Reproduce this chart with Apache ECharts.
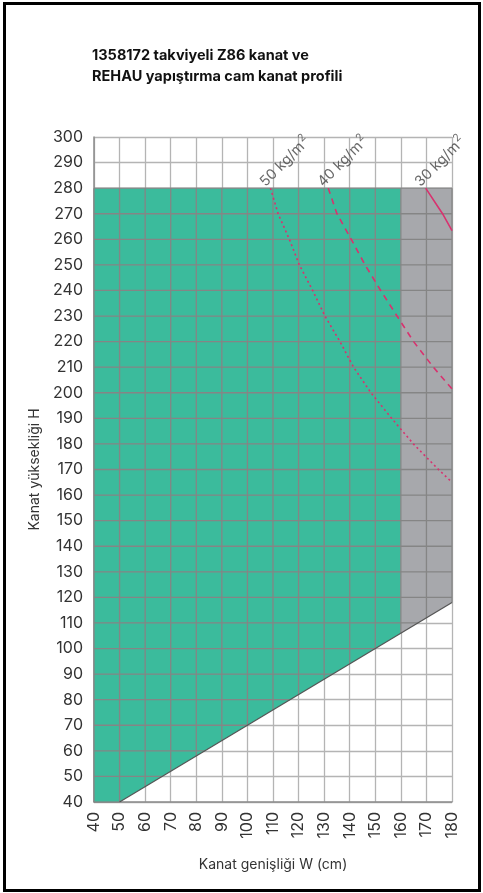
<!DOCTYPE html>
<html>
<head>
<meta charset="utf-8">
<script src="https://cdn.jsdelivr.net/npm/echarts@6/dist/echarts.min.js"></script>
<style>
html,body{margin:0;padding:0;background:#fff;}
#c{width:483px;height:893px;}
</style>
</head>
<body>
<div id="c"></div>
<script>
// ---- data ----
const titleLines = ['1358172 takviyeli Z86 kanat ve', 'REHAU yapıştırma cam kanat profili'];
const xName = 'Kanat genişliği W (cm)';
const yName = 'Kanat yüksekliği H';
const xMin = 40, xMax = 180, xStep = 10;
const yMin = 40, yMax = 300, yStep = 10;

// permitted region (green) and restricted region (gray)
const greenX = [40, 50, 160, 160, 40];
const greenY = [40, 40, 106, 280, 280];
const grayX = [160, 180, 180, 160];
const grayY = [106, 118, 280, 280];
// lower limit line
const limitX = [50, 180];
const limitY = [40, 118];
const topLimit = 280;

// glass weight curves
const c50X = [109, 112, 116.4, 120.3, 125.5, 130.3, 136.2, 141.5, 148.3, 156.4, 164.9, 174.7, 180];
const c50Y = [280, 270, 260, 250, 240, 230, 220, 210, 200, 190, 180, 170, 165];
const c40X = [131.6, 135, 140.6, 146, 152.1, 158.5, 165, 172.7, 180];
const c40Y = [280, 270, 260, 250, 240, 230, 220, 210, 201.5];
const c30X = [169.7, 176.3, 180];
const c30Y = [280, 270, 263.4];
const curveLabelValues = ['50', '40', '30'];

// ---- helpers ----
const zip = (a, b) => a.map((v, i) => [v, b[i]]);
const FONT = 'Inter, "Noto Sans", sans-serif';
const PINK = '#d8326f';

function polygonSeries(xs, ys, color) {
  return {
    type: 'custom',
    z: 1,
    silent: true,
    data: [0],
    renderItem: function (params, api) {
      const pts = xs.map((x, i) => api.coord([x, ys[i]]));
      return {
        type: 'polygon',
        shape: { points: pts },
        style: { fill: color, stroke: null }
      };
    }
  };
}

// darker grid lines over the coloured region (bounded by limit line and top limit)
function limitYAt(x) {
  if (x <= limitX[0]) return limitY[0];
  const t = (x - limitX[0]) / (limitX[1] - limitX[0]);
  return limitY[0] + t * (limitY[1] - limitY[0]);
}
function limitXAt(y) {
  const t = (y - limitY[0]) / (limitY[1] - limitY[0]);
  return Math.min(xMax, limitX[0] + t * (limitX[1] - limitX[0]));
}
const gridOverSeries = {
  type: 'custom',
  z: 2,
  silent: true,
  data: [0],
  renderItem: function (params, api) {
    const children = [];
    const st = { stroke: '#858585', lineWidth: 1.3, fill: null };
    for (let x = xMin; x <= xMax; x += xStep) {
      const a = api.coord([x, limitYAt(x)]);
      const b = api.coord([x, topLimit]);
      children.push({ type: 'line', shape: { x1: a[0], y1: a[1], x2: b[0], y2: b[1] }, style: st });
    }
    for (let y = yMin; y <= topLimit; y += yStep) {
      const a = api.coord([xMin, y]);
      const b = api.coord([limitXAt(y), y]);
      children.push({ type: 'line', shape: { x1: a[0], y1: a[1], x2: b[0], y2: b[1] }, style: st });
    }
    return { type: 'group', children: children };
  }
};

function curveSeries(xs, ys, lineType) {
  return {
    type: 'line',
    z: 8,
    silent: true,
    symbol: 'none',
    smooth: false,
    data: zip(xs, ys),
    lineStyle: { color: PINK, width: 1.6, type: lineType }
  };
}

function labelSeries(xs, ys, texts) {
  return {
    type: 'scatter',
    z: 9,
    silent: true,
    symbolSize: 0,
    data: xs.map((x, i) => ({ value: [x, ys[i]], name: texts[i] })),
    label: {
      show: true,
      position: [0, 0],
      align: 'left',
      verticalAlign: 'bottom',
      rotate: 45,
      offset: [-3, -1],
      formatter: p => '{a|' + p.name + ' kg/m}{s|2}',
      rich: {
        a: { fontFamily: FONT, fontSize: 14.5, color: '#444', lineHeight: 18, verticalAlign: 'bottom' },
        s: { fontFamily: FONT, fontSize: 10.5, color: '#444', lineHeight: 18, verticalAlign: 'top', padding: [0, 0, 0, 1] }
      }
    }
  };
}

const chart = echarts.init(document.getElementById('c'), null, { renderer: 'canvas' });
chart.setOption({
  animation: false,
  backgroundColor: '#fff',
  title: {
    text: titleLines.join('\n'),
    left: 87,
    top: 40,
    textStyle: { fontFamily: FONT, fontSize: 14.5, fontWeight: 'bold', color: '#111', lineHeight: 21 }
  },
  graphic: [{
    type: 'rect',
    shape: { x: 4.5, y: 3.5, width: 475, height: 887 },
    style: { fill: null, stroke: '#000', lineWidth: 3 },
    silent: true,
    z: 100
  }],
  grid: { left: 94, right: 31, top: 137, bottom: 91, containLabel: false },
  xAxis: {
    type: 'value',
    min: xMin, max: xMax, interval: xStep,
    name: xName,
    nameLocation: 'middle',
    nameGap: 56,
    nameTextStyle: { fontFamily: FONT, fontSize: 14, color: '#333' },
    axisLine: { show: true, lineStyle: { color: '#8c8c8c', width: 1.5 } },
    axisTick: { show: false },
    splitLine: { show: true, lineStyle: { color: '#b4b4b4', width: 1.3 } },
    axisLabel: { rotate: 90, margin: 10, fontFamily: FONT, fontSize: 16, color: '#333' }
  },
  yAxis: {
    type: 'value',
    min: yMin, max: yMax, interval: yStep,
    name: yName,
    nameLocation: 'middle',
    nameGap: 50,
    nameTextStyle: { fontFamily: FONT, fontSize: 14, color: '#333' },
    axisLine: { show: true, lineStyle: { color: '#8c8c8c', width: 1.5 } },
    axisTick: { show: false },
    splitLine: { show: true, lineStyle: { color: '#b4b4b4', width: 1.3 } },
    axisLabel: { margin: 11, fontFamily: FONT, fontSize: 16, color: '#333' }
  },
  series: [
    polygonSeries(greenX, greenY, '#3bbb9c'),
    polygonSeries(grayX, grayY, '#a7a8ac'),
    gridOverSeries,
    {
      type: 'line', z: 7, silent: true, symbol: 'none',
      data: zip(limitX, limitY),
      lineStyle: { color: '#555', width: 1.2 }
    },
    curveSeries(c50X, c50Y, [2, 3]),
    curveSeries(c40X, c40Y, [6, 5]),
    curveSeries(c30X, c30Y, 'solid'),
    labelSeries([c50X[0], c40X[0], c30X[0]], [c50Y[0], c40Y[0], c30Y[0]], curveLabelValues)
  ]
});
</script>
</body>
</html>
